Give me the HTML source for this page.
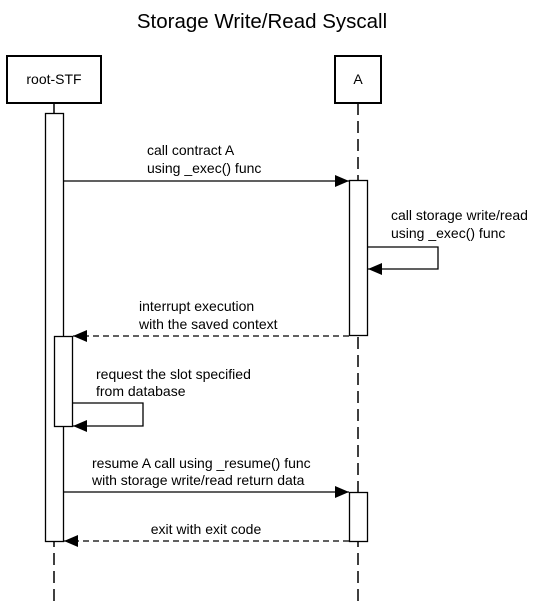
<!DOCTYPE html>
<html><head><meta charset="utf-8"><style>
html,body{margin:0;padding:0;background:#fff;}
svg{display:block;}
text{font-family:"Liberation Sans",Arial,sans-serif;fill:#000;}
</style></head><body>
<svg width="539" height="602" viewBox="0 0 539 602" xmlns="http://www.w3.org/2000/svg">
<defs>
<marker id="ah" markerWidth="14" markerHeight="12" refX="14" refY="6" orient="auto" markerUnits="userSpaceOnUse">
<path d="M0,0 L14,6 L0,12 Z" fill="#000"/></marker>
</defs>
<text x="262" y="28" font-size="20.5" text-anchor="middle">Storage Write/Read Syscall</text>
<line x1="54" y1="103" x2="54" y2="602" stroke="#000" stroke-width="1.5" stroke-dasharray="12,6"/>
<line x1="358" y1="103" x2="358" y2="602" stroke="#000" stroke-width="1.5" stroke-dasharray="12,6"/>
<rect x="7" y="56" width="94" height="47" fill="#fff" stroke="#000" stroke-width="2"/>
<text x="54" y="84" font-size="14" text-anchor="middle">root-STF</text>
<rect x="335" y="56" width="46" height="47" fill="#fff" stroke="#000" stroke-width="2"/>
<text x="358" y="84" font-size="14" text-anchor="middle">A</text>
<rect x="45.5" y="113.5" width="18" height="428" fill="#fff" stroke="#000" stroke-width="1.3"/>
<rect x="349.5" y="180.5" width="18" height="155" fill="#fff" stroke="#000" stroke-width="1.3"/>
<rect x="54.5" y="336.5" width="18" height="90" fill="#fff" stroke="#000" stroke-width="1.3"/>
<rect x="349.5" y="492.5" width="18" height="49" fill="#fff" stroke="#000" stroke-width="1.3"/>

<text x="147" y="155" font-size="14">call contract A</text>
<text x="147" y="173" font-size="14">using _exec() func</text>
<line x1="64" y1="181" x2="349" y2="181" stroke="#000" stroke-width="1.3" marker-end="url(#ah)"/>

<text x="391" y="220" font-size="14">call storage write/read</text>
<text x="391" y="238" font-size="14">using _exec() func</text>
<polyline points="368,247 438,247 438,269 368,269" fill="none" stroke="#000" stroke-width="1.3" marker-end="url(#ah)"/>

<text x="139" y="311" font-size="14">interrupt execution</text>
<text x="139" y="329" font-size="14">with the saved context</text>
<line x1="349" y1="336" x2="73" y2="336" stroke="#000" stroke-width="1.3" stroke-dasharray="6,4" marker-end="url(#ah)"/>

<text x="96" y="379" font-size="14">request the slot specified</text>
<text x="96" y="396" font-size="14">from database</text>
<polyline points="73,403 143,403 143,426 73,426" fill="none" stroke="#000" stroke-width="1.3" marker-end="url(#ah)"/>

<text x="92" y="468" font-size="14">resume A call using _resume() func</text>
<text x="92" y="485" font-size="14">with storage write/read return data</text>
<line x1="64" y1="492" x2="349" y2="492" stroke="#000" stroke-width="1.3" marker-end="url(#ah)"/>

<text x="206" y="534" font-size="14" text-anchor="middle">exit with exit code</text>
<line x1="349" y1="541" x2="64" y2="541" stroke="#000" stroke-width="1.3" stroke-dasharray="6,4" marker-end="url(#ah)"/>
</svg>
</body></html>
